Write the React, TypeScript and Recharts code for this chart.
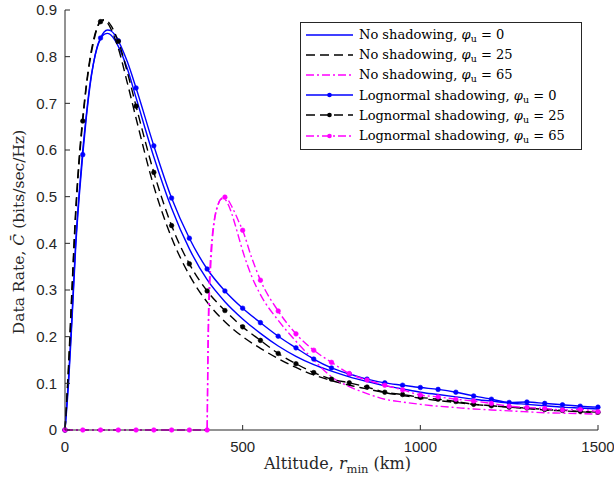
import React from 'react';
import { LineChart, Line, XAxis, YAxis, Legend, Label } from 'recharts';

// altitude samples (km)
const kmGrid = [
  0, 10, 20, 30, 40, 50, 60, 70, 80, 90, 100, 110, 120, 130, 140, 150, 175, 200,
  250, 300, 350, 400, 450, 500, 550, 600, 650, 700, 750, 800, 850, 900, 950, 1000,
  1050, 1100, 1150, 1200, 1250, 1300, 1350, 1400, 1450, 1500,
];
const kmMagenta = [
  0, 50, 100, 150, 200, 250, 300, 350, 400, 401, 402, 404, 407, 410, 415, 420, 430,
  440, 450, 460, 470, 480, 490, 500, 525, 550, 600, 650, 700, 750, 800, 850, 900,
  950, 1000, 1050, 1100, 1150, 1200, 1250, 1300, 1350, 1400, 1450, 1500,
];

// rates (bits/sec/Hz)
const noShadow0 = [
  0, 0.11, 0.25, 0.4, 0.51, 0.6, 0.675, 0.74, 0.785, 0.818, 0.838, 0.848, 0.85, 0.846,
  0.836, 0.822, 0.775, 0.712, 0.585, 0.475, 0.388, 0.322, 0.275, 0.238, 0.207, 0.18,
  0.158, 0.14, 0.126, 0.114, 0.104, 0.095, 0.088, 0.081, 0.076, 0.071, 0.066, 0.062,
  0.058, 0.055, 0.052, 0.049, 0.047, 0.045,
];
const noShadow25 = [
  0, 0.14, 0.31, 0.47, 0.585, 0.67, 0.74, 0.795, 0.835, 0.862, 0.876, 0.878, 0.872,
  0.858, 0.84, 0.818, 0.745, 0.668, 0.522, 0.412, 0.332, 0.274, 0.232, 0.2, 0.175,
  0.153, 0.134, 0.118, 0.106, 0.096, 0.088, 0.08, 0.074, 0.068, 0.063, 0.059, 0.055,
  0.052, 0.049, 0.046, 0.043, 0.041, 0.039, 0.037,
];
const noShadow65 = [
  0, 0, 0, 0, 0, 0, 0, 0, 0, 0.08, 0.16, 0.26, 0.33, 0.375, 0.42, 0.45, 0.482, 0.495,
  0.494, 0.482, 0.462, 0.437, 0.41, 0.384, 0.33, 0.29, 0.235, 0.19, 0.15, 0.114,
  0.093, 0.078, 0.066, 0.06, 0.055, 0.051, 0.048, 0.045, 0.043, 0.041, 0.039, 0.037,
  0.036, 0.035, 0.034,
];
const lognormal0 = [
  0, 0.1, 0.24, 0.39, 0.5, 0.59, 0.67, 0.735, 0.785, 0.82, 0.84, 0.853, 0.857, 0.855,
  0.847, 0.834, 0.79, 0.733, 0.609, 0.497, 0.411, 0.345, 0.298, 0.261, 0.23, 0.201,
  0.176, 0.152, 0.133, 0.12, 0.109, 0.101, 0.096, 0.091, 0.087, 0.081, 0.073, 0.066,
  0.059, 0.06, 0.057, 0.054, 0.051, 0.049,
];
const lognormal25 = [
  0, 0.13, 0.3, 0.46, 0.575, 0.662, 0.735, 0.79, 0.83, 0.86, 0.875, 0.879, 0.876,
  0.866, 0.851, 0.833, 0.768, 0.694, 0.552, 0.438, 0.356, 0.298, 0.256, 0.221, 0.192,
  0.164, 0.142, 0.123, 0.109, 0.101, 0.092, 0.081, 0.076, 0.07, 0.066, 0.061, 0.055,
  0.052, 0.049, 0.047, 0.044, 0.042, 0.04, 0.038,
];
const lognormal65 = [
  0, 0, 0, 0, 0, 0, 0, 0, 0, 0.06, 0.13, 0.22, 0.3, 0.35, 0.41, 0.445, 0.48, 0.496,
  0.499, 0.492, 0.478, 0.462, 0.445, 0.428, 0.37, 0.321, 0.255, 0.206, 0.171, 0.145,
  0.121, 0.107, 0.096, 0.086, 0.075, 0.071, 0.066, 0.062, 0.057, 0.051, 0.048, 0.046,
  0.043, 0.044, 0.039,
];

const xTicks = [0, 500, 1000, 1500];
const yTicks = [0, 0.1, 0.2, 0.3, 0.4, 0.5, 0.6, 0.7, 0.8, 0.9];

const toPoints = (xs: number[], ys: number[]) => xs.map((x, i) => ({ x, y: ys[i] }));

const BLUE = '#0000ff';
const BLACK = '#000000';
const MAGENTA = '#ff00ff';
const AXIS = '#262626';
const DASH = '9 5';
const DASHDOT = '8 3 2 3';

const series = [
  { name: '0', label: 'No shadowing', data: toPoints(kmGrid, noShadow0), color: BLUE, dash: undefined, dots: false },
  { name: '25', label: 'No shadowing', data: toPoints(kmGrid, noShadow25), color: BLACK, dash: DASH, dots: false },
  { name: '65', label: 'No shadowing', data: toPoints(kmMagenta, noShadow65), color: MAGENTA, dash: DASHDOT, dots: false },
  { name: '0', label: 'Lognormal shadowing', data: toPoints(kmGrid, lognormal0), color: BLUE, dash: undefined, dots: true },
  { name: '25', label: 'Lognormal shadowing', data: toPoints(kmGrid, lognormal25), color: BLACK, dash: DASH, dots: true },
  { name: '65', label: 'Lognormal shadowing', data: toPoints(kmMagenta, lognormal65), color: MAGENTA, dash: DASHDOT, dots: true },
];

const TICK_LEN = 5;
const tickFont = { fontFamily: '"Liberation Sans", Arial, sans-serif', fontSize: 15, fill: AXIS };

const BottomTick = (props: any) => {
  const { x, y, payload } = props;
  const axisY = y - 11;
  return (
    <g>
      <line x1={x} x2={x} y1={axisY} y2={axisY - TICK_LEN} stroke={AXIS} />
      <text x={x} y={y} dy="0.71em" textAnchor="middle" {...tickFont}>{payload.value}</text>
    </g>
  );
};

const LeftTick = (props: any) => {
  const { x, y, payload } = props;
  const axisX = x + 8;
  return (
    <g>
      <line x1={axisX} x2={axisX + TICK_LEN} y1={y} y2={y} stroke={AXIS} />
      <text x={x} y={y} dy="0.36em" textAnchor="end" {...tickFont}>{payload.value}</text>
    </g>
  );
};

const TopTick = (props: any) => {
  const { x, y } = props;
  return <line x1={x} x2={x} y1={y} y2={y + TICK_LEN} stroke={AXIS} />;
};

const RightTick = (props: any) => {
  const { x, y } = props;
  return <line x1={x} x2={x - TICK_LEN} y1={y} y2={y} stroke={AXIS} />;
};

const serif = '"DejaVu Serif", serif';

const YTitle = (props: any) => {
  const { viewBox } = props;
  const cx = viewBox.x + 19;
  const cy = viewBox.y + viewBox.height / 2 + 12;
  return (
    <text
      x={cx}
      y={cy}
      transform={`rotate(-90, ${cx}, ${cy})`}
      textAnchor="middle"
      dominantBaseline="central"
      fontFamily={serif}
      fontSize={15.5}
      fill={AXIS}
    >
      Data Rate, <tspan fontStyle="italic">{'C\u0304'}</tspan> (bits/sec/Hz)
    </text>
  );
};

const XTitle = (props: any) => {
  const { viewBox } = props;
  const cx = viewBox.x + viewBox.width / 2 + 6;
  const cy = viewBox.y + 39;
  return (
    <text x={cx} y={cy} textAnchor="middle" fontFamily={serif} fontSize={16} fill={AXIS}>
      Altitude, <tspan fontStyle="italic">r</tspan>
      <tspan fontSize={11.5} dy={4}>min</tspan>
      <tspan dy={-4}> (km)</tspan>
    </text>
  );
};

const makeDot = (color: string) => (props: any) => {
  const { cx, cy, payload, index } = props;
  if (payload.x % 50 !== 0) return <g key={`n-${index}`} />;
  return <circle key={`d-${index}`} cx={cx} cy={cy} r={2.3} fill={color} stroke={color} strokeWidth={0.6} />;
};

const LegendBox = () => (
  <div
    style={{
      width: 280,
      height: 124,
      border: `1px solid ${AXIS}`,
      background: '#fff',
      paddingTop: 1.5,
      boxSizing: 'content-box',
      fontFamily: serif,
      fontSize: 13,
      color: '#000',
    }}
  >
    {series.map((s, i) => (
      <div key={i} style={{ display: 'flex', alignItems: 'center', height: 20.2, whiteSpace: 'nowrap' }}>
        <svg width={57} height={20} style={{ flex: 'none' }}>
          <line x1={5} x2={52} y1={10} y2={10} stroke={s.color} strokeWidth={1.4} strokeDasharray={s.dash} />
          {s.dots && <circle cx={28.5} cy={10} r={2.3} fill={s.color} />}
        </svg>
        <span style={{ marginLeft: 1 }}>
          {s.label}, <i>φ</i>
          <span style={{ fontSize: 9.5, position: 'relative', top: 3 }}>u</span> = {s.name}
        </span>
      </div>
    ))}
  </div>
);

const App: React.FC = () => {
  return (
    <div style={{ position: 'absolute', left: 0, top: 0, background: '#fff' }}>
      <LineChart width={614} height={483} margin={{ top: 10, right: 16, bottom: 0, left: 0 }}>
        <XAxis
          xAxisId="b"
          type="number"
          dataKey="x"
          domain={[0, 1500]}
          ticks={xTicks}
          height={53}
          tickSize={0}
          tickMargin={11}
          tick={<BottomTick />}
          axisLine={{ stroke: AXIS }}
          tickLine={false}
          interval={0}
        >
          <Label content={<XTitle />} />
        </XAxis>
        <XAxis
          xAxisId="t"
          orientation="top"
          type="number"
          dataKey="x"
          domain={[0, 1500]}
          ticks={xTicks}
          height={0}
          tickSize={0}
          tickMargin={0}
          tick={<TopTick />}
          axisLine={{ stroke: AXIS }}
          tickLine={false}
          interval={0}
        />
        <YAxis
          yAxisId="l"
          type="number"
          domain={[0, 0.9]}
          ticks={yTicks}
          width={65}
          tickSize={0}
          tickMargin={8}
          tick={<LeftTick />}
          axisLine={{ stroke: AXIS }}
          tickLine={false}
          interval={0}
        >
          <Label content={<YTitle />} />
        </YAxis>
        <YAxis
          yAxisId="r"
          orientation="right"
          type="number"
          domain={[0, 0.9]}
          ticks={yTicks}
          width={0}
          tickSize={0}
          tickMargin={0}
          tick={<RightTick />}
          axisLine={{ stroke: AXIS }}
          tickLine={false}
          interval={0}
        />
        {series.map((s, i) => (
          <Line
            key={i}
            xAxisId="b"
            yAxisId="l"
            data={s.data}
            dataKey="y"
            type="monotone"
            stroke={s.color}
            strokeWidth={1.4}
            strokeDasharray={s.dash}
            dot={s.dots ? makeDot(s.color) : false}
            activeDot={false}
            isAnimationActive={false}
          />
        ))}
        <Legend
          layout="vertical"
          align="center"
          verticalAlign="middle"
          wrapperStyle={{ left: 300, top: 22, width: 282 }}
          content={<LegendBox />}
        />
      </LineChart>
    </div>
  );
};

export default App;
